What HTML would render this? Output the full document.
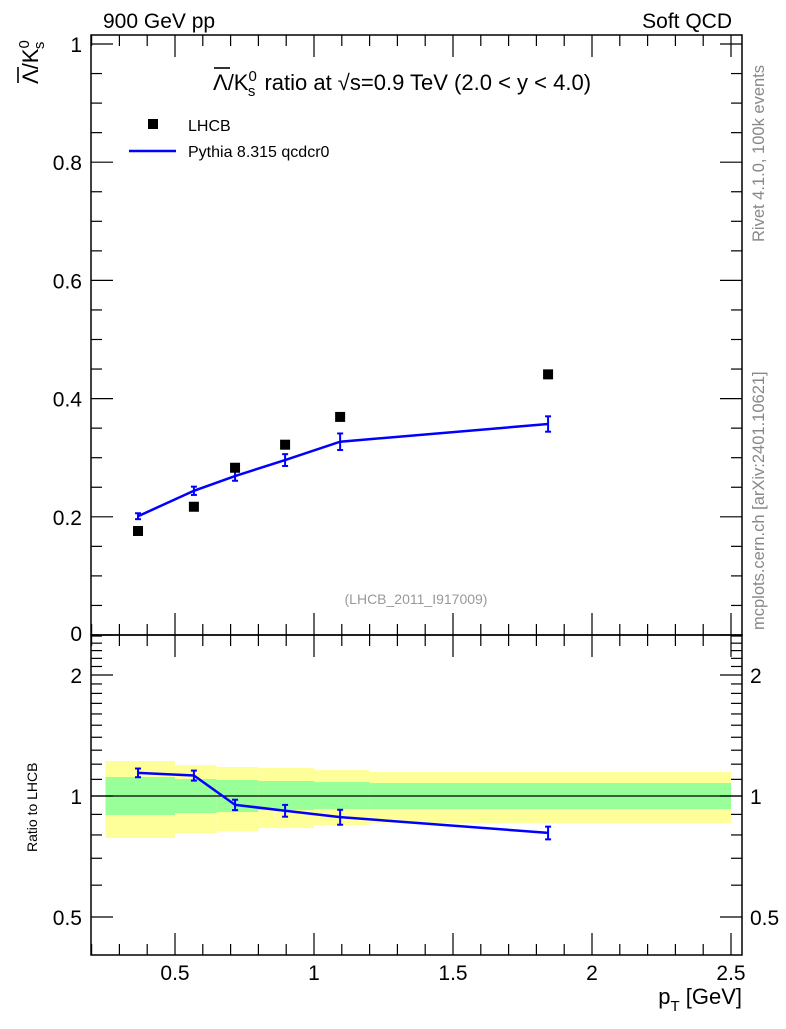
<!DOCTYPE html>
<html><head><meta charset="utf-8"><style>
body{margin:0;background:#fff;}
svg text{font-family:"Liberation Sans",sans-serif;}
</style></head><body>
<svg id="c" width="786" height="1024" xmlns="http://www.w3.org/2000/svg"></svg>
<script>
const xVals=[0.367,0.568,0.716,0.896,1.094,1.842];
const dataVals=[0.176,0.217,0.283,0.322,0.369,0.441];
const mcVals=[0.201,0.244,0.269,0.296,0.327,0.357];
const mcErr=[0.005,0.007,0.008,0.010,0.014,0.013];
const binEdges=[0.25,0.5,0.65,0.8,1.0,1.2,2.5];
const yelUp=[1.222,1.194,1.181,1.174,1.160,1.147];
const yelLo=[0.786,0.809,0.818,0.832,0.847,0.857];
const grnUp=[1.115,1.102,1.096,1.090,1.084,1.077];
const grnLo=[0.897,0.907,0.912,0.923,0.928,0.928];
const xTickLabels=[0.5,1,1.5,2,2.5];
const yTickLabels=[0.2,0.4,0.6,0.8,1];
const rTickLabels=[0.5,1,2];

const NS="http://www.w3.org/2000/svg";
const svg=document.getElementById('c');
const L=91,R=742,T=35,M=635,B=955;
const X=v=>36+278*v;
const Y=v=>635-591*v;
const RY=r=>796-121*Math.log2(r);
function el(tag,attrs,parent){const e=document.createElementNS(NS,tag);for(const k in attrs)e.setAttribute(k,attrs[k]);(parent||svg).appendChild(e);return e;}
function txt(s,x,y,size,anchor,fill,parent){const t=el('text',{x:x,y:y,'font-size':size,'text-anchor':anchor||'start',fill:fill||'#000'},parent);t.textContent=s;return t;}

const bands=el('g',{});


for(let i=0;i<6;i++){
  const x0=X(binEdges[i]),x1=X(binEdges[i+1]);
  const y=el('rect',{x:x0,y:RY(yelUp[i]),width:x1-x0,height:RY(yelLo[i])-RY(yelUp[i]),fill:'#ffff99'},bands);
  
  
  const g=el('rect',{x:x0,y:RY(grnUp[i]),width:x1-x0,height:RY(grnLo[i])-RY(grnUp[i]),fill:'#99ff99'},bands);
  
  
}
const one=el('line',{x1:L,x2:R,y1:RY(1),y2:RY(1),stroke:'#000','stroke-width':1.3});



const f1=el('rect',{x:L,y:T,width:R-L,height:M-T,fill:'none',stroke:'#000','stroke-width':1.5});


const f2=el('rect',{x:L,y:M,width:R-L,height:B-M,fill:'none',stroke:'#000','stroke-width':1.5});



const ticks=el('g',{stroke:'#000','stroke-width':1.2});


for(let k=2;k<=25;k++){
  const v=k/10,x=X(v),maj=(k%5===0),len=maj?22:11;
  [[T,T+len],[M,M-len],[M,M+len],[B,B-len]].forEach(p=>el('line',{x1:x,x2:x,y1:p[0],y2:p[1]},ticks));
}
for(let k=0;k<=20;k++){
  const v=k*0.05,y=Y(v),maj=(k%4===0),len=maj?22:11;
  el('line',{x1:L,x2:L+len,y1:y,y2:y},ticks);el('line',{x1:R,x2:R-len,y1:y,y2:y},ticks);
}
for(let k=4;k<=25;k++){
  const r=k/10,y=RY(r);if(y<M||y>B)continue;
  const maj=(k===5||k===10||k===20),len=maj?22:11;
  el('line',{x1:L,x2:L+len,y1:y,y2:y},ticks);el('line',{x1:R,x2:R-len,y1:y,y2:y},ticks);
}
xTickLabels.forEach(v=>{const t=txt(String(v),X(v),980,21,'middle');});
yTickLabels.forEach(v=>{const t=txt(String(v),82,Y(v)+8,21,'end');});
txt('0',82,641,21,'end');
rTickLabels.forEach(v=>{const t=txt(String(v),82,RY(v)+8,21,'end');
const t2=txt(String(v),750,RY(v)+8,21,'start');});

const mcG=el('g',{stroke:'#0000ff','stroke-width':2.5,fill:'none'});


el('polyline',{points:xVals.map((x,i)=>X(x)+','+Y(mcVals[i])).join(' ')},mcG);
xVals.forEach((x,i)=>{const cx=X(x);const a=Y(mcVals[i]+mcErr[i]),b=Y(mcVals[i]-mcErr[i]);
 el('line',{x1:cx,x2:cx,y1:a,y2:b,'stroke-width':2},mcG);el('line',{x1:cx-3,x2:cx+3,y1:a,y2:a,'stroke-width':2},mcG);el('line',{x1:cx-3,x2:cx+3,y1:b,y2:b,'stroke-width':2},mcG);});
const dG=el('g',{});


xVals.forEach((x,i)=>{const r=el('rect',{x:X(x)-5,y:Y(dataVals[i])-5,width:10,height:10,fill:'#000'},dG);

});
const rG=el('g',{stroke:'#0000ff','stroke-width':2.5,fill:'none'});


const rat=mcVals.map((m,i)=>m/dataVals[i]);
el('polyline',{points:xVals.map((x,i)=>X(x)+','+RY(rat[i])).join(' ')},rG);
xVals.forEach((x,i)=>{const cx=X(x);const e=mcErr[i]/dataVals[i];const a=RY(rat[i]+e),b=RY(rat[i]-e);
 el('line',{x1:cx,x2:cx,y1:a,y2:b,'stroke-width':2},rG);el('line',{x1:cx-3,x2:cx+3,y1:a,y2:a,'stroke-width':2},rG);el('line',{x1:cx-3,x2:cx+3,y1:b,y2:b,'stroke-width':2},rG);});
</script>
<svg width="786" height="1024" style="position:absolute;left:0;top:0" xmlns="http://www.w3.org/2000/svg">
<text x="103" y="28" font-size="21" font-family="Liberation Sans">900 GeV pp</text>
<text x="732" y="28" font-size="21" text-anchor="end" font-family="Liberation Sans">Soft QCD</text>
<g>
<line x1="214" x2="230" y1="68" y2="68" stroke="#000" stroke-width="1.6"/>
<text x="213" y="90" font-size="22" font-family="Liberation Sans">Λ/K<tspan font-size="15" dy="-9">0</tspan><tspan font-size="15" dx="-9" dy="15">s</tspan><tspan dy="-6" dx="3"> ratio at √s=0.9 TeV (2.0 &lt; y &lt; 4.0)</tspan></text>
</g>
<g>
<rect x="148" y="119" width="10" height="10" fill="#000"/>
<text x="188" y="131" font-size="16" font-family="Liberation Sans">LHCB</text>
<line x1="129" x2="176" y1="151" y2="151" stroke="#0000ff" stroke-width="2.5"/>
<text x="188" y="157" font-size="16" font-family="Liberation Sans">Pythia 8.315 qcdcr0</text>
</g>
<g transform="translate(38,84) rotate(-90)">
<line x1="1" x2="17" y1="-20" y2="-20" stroke="#000" stroke-width="1.6"/>
<text x="0" y="0" font-size="22" font-family="Liberation Sans">Λ/K<tspan font-size="15" dy="-9">0</tspan><tspan font-size="15" dx="-9" dy="15">s</tspan></text>
</g>
<text transform="translate(37,852) rotate(-90)" font-size="14" font-family="Liberation Sans">Ratio to LHCB</text>
<text x="742" y="1004" font-size="22" text-anchor="end" font-family="Liberation Sans">p<tspan font-size="15" dy="7">T</tspan><tspan dy="-7"> [GeV]</tspan></text>
<text x="416" y="604" font-size="14" fill="#999" text-anchor="middle" font-family="Liberation Sans">(LHCB_2011_I917009)</text>
<text transform="translate(764,242) rotate(-90)" font-size="16.5" fill="#888" font-family="Liberation Sans">Rivet 4.1.0,  100k events</text>
<text transform="translate(764,630) rotate(-90)" font-size="16.5" fill="#888" font-family="Liberation Sans">mcplots.cern.ch [arXiv:2401.10621]</text>
</svg>
</body></html>
